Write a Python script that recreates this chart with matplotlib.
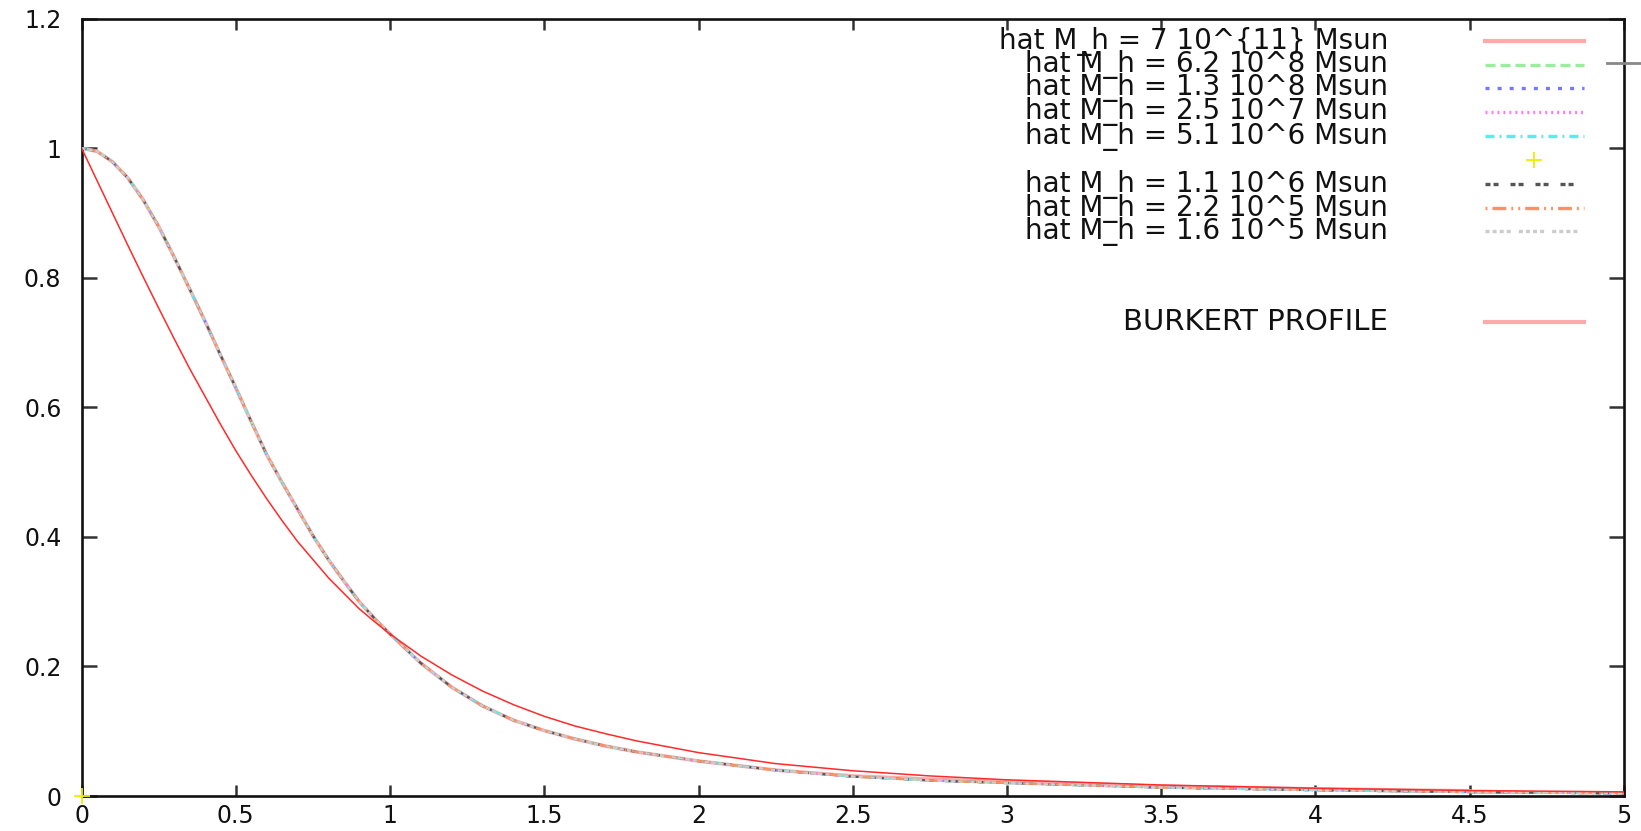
import matplotlib
matplotlib.use("Agg")
import matplotlib.pyplot as plt
from matplotlib.lines import Line2D

# radius
r = [0, 0.05, 0.1, 0.15, 0.2, 0.25, 0.3, 0.35, 0.4, 0.45, 0.5, 0.55, 0.6,
     0.65, 0.7, 0.75, 0.8, 0.85, 0.9, 0.95, 1.0, 1.1, 1.2, 1.3, 1.4, 1.5,
     1.6, 1.7, 1.8, 2.0, 2.25, 2.5, 2.75, 3.0, 3.5, 4.0, 4.5, 5.0]

# the small-mass curves all lie on top of each other at this resolution
cored = [1.0, 0.995, 0.979, 0.954, 0.920, 0.879, 0.832, 0.783, 0.733, 0.681,
         0.630, 0.578, 0.527, 0.484, 0.443, 0.402, 0.365, 0.332, 0.300, 0.274,
         0.250, 0.205, 0.168, 0.139, 0.117, 0.101, 0.088, 0.077, 0.068, 0.054,
         0.040, 0.030, 0.024, 0.020, 0.013, 0.009, 0.006, 0.004]

# 7 10^11 curve, same in the core, a bit above in the tail, stops at 4.5
r_big = r[:-1]
big = [1.0, 0.995, 0.979, 0.954, 0.920, 0.879, 0.832, 0.783, 0.733, 0.681,
       0.630, 0.578, 0.527, 0.484, 0.443, 0.402, 0.365, 0.332, 0.300, 0.274,
       0.250, 0.205, 0.168, 0.139, 0.117, 0.101, 0.088, 0.077, 0.068, 0.054,
       0.040, 0.031, 0.026, 0.022, 0.015, 0.011, 0.008]

burkert = [1.0, 0.950, 0.900, 0.850, 0.801, 0.753, 0.706, 0.660, 0.617, 0.574,
           0.533, 0.495, 0.459, 0.425, 0.393, 0.365, 0.337, 0.313, 0.289, 0.269,
           0.250, 0.216, 0.187, 0.162, 0.141, 0.123, 0.108, 0.096, 0.085, 0.067,
           0.050, 0.039, 0.031, 0.025, 0.017, 0.012, 0.0085, 0.0064]

# yellow points series: only the one at the origin is visible
pts_r = [0.0]
pts_y = [0.0]

labels = ["hat M_h = 7 10^{11} Msun", "hat M_h = 6.2 10^8 Msun",
          "hat M_h = 1.3 10^8 Msun", "hat M_h = 2.5 10^7 Msun",
          "hat M_h = 5.1 10^6 Msun", "",
          "hat M_h = 1.1 10^6 Msun", "hat M_h = 2.2 10^5 Msun",
          "hat M_h = 1.6 10^5 Msun"]
burkert_label = "BURKERT PROFILE"

xticks = [0, 0.5, 1, 1.5, 2, 2.5, 3, 3.5, 4, 4.5, 5]
xticklabels = ["0", "0.5", "1", "1.5", "2", "2.5", "3", "3.5", "4", "4.5", "5"]
yticks = [0, 0.2, 0.4, 0.6, 0.8, 1.0, 1.2]
yticklabels = ["0", "0.2", "0.4", "0.6", "0.8", "1", "1.2"]

plt.rcParams["lines.scale_dashes"] = False
plt.rcParams["font.family"] = ["DejaVu Sans"]

colors = ["#ffaaaa", "#99ee99", "#7777ff", "#ff77ff", "#55eeee", "#eeee00",
          "#555555", "#ff9060", "#cccccc"]
dashes = [None, (7.2, 3.6), (2.9, 5.8), (1.4, 2.9), (6.5, 3.6, 1.4, 3.6), None,
          (3.6, 2.2, 3.6, 8.6), (1.4, 3.6, 10, 3.6, 1.4, 3.6),
          (2.9, 2.2, 2.9, 2.2, 2.9, 2.2, 2.9, 5.8)]

fig = plt.figure(figsize=(16.41, 8.31), dpi=100)
ax = fig.add_axes([0.0497, 0.0421, 0.9399, 0.9356])

ax.plot(r_big, big, color=colors[0], lw=2.6, zorder=2)
for i in range(1, 9):
    if i == 5:
        ax.plot(pts_r, pts_y, "+", color=colors[i], ms=11, mew=1.3,
                clip_on=False, zorder=4)
        continue
    ax.plot(r, cored, color=colors[i], lw=1.6, dashes=dashes[i], zorder=3)
ax.plot(r, burkert, color="#ff2a2a", lw=1.1, zorder=5)

ax.set_xlim(0, 5)
ax.set_ylim(0, 1.2)
ax.set_xticks(xticks)
ax.set_xticklabels(xticklabels)
ax.set_yticks(yticks)
ax.set_yticklabels(yticklabels)
ax.tick_params(axis="both", direction="in", top=True, right=True,
               width=1.8, color="#333333", labelsize=17, labelcolor="#111111")
ax.tick_params(axis="x", length=8, pad=6)
ax.tick_params(axis="y", length=11, pad=14.5)
for s in ax.spines.values():
    s.set_linewidth(1.9)
    s.set_color("#111111")

# gnuplot style key: text right aligned, samples on the right
row_y = [0.9711, 0.9406, 0.9110, 0.8801, 0.8489, 0.8180, 0.7871, 0.7563, 0.7267]
for i, lab in enumerate(labels):
    y = row_y[i]
    if lab:
        ax.text(0.8472, y, lab, transform=ax.transAxes, ha="right", va="center",
                fontsize=20, color="#111111")
    if i == 5:
        ax.plot([0.942], [y], "+", color=colors[i], ms=11, mew=1.3,
                transform=ax.transAxes)
    elif i == 0:
        ax.plot([0.910, 0.974], [y, y], color=colors[i], lw=3.0,
                transform=ax.transAxes)
    else:
        ax.plot([0.910, 0.974], [y, y], color=colors[i], lw=2.4,
                dashes=dashes[i], transform=ax.transAxes)

ax.text(0.8472, 0.6096, burkert_label, transform=ax.transAxes, ha="right",
        va="center", fontsize=21, color="#111111")
ax.plot([0.910, 0.974], [0.6096, 0.6096], color="#ffaaaa", lw=3.0,
        transform=ax.transAxes)

# stray grey mark at the right edge
fig.add_artist(Line2D([0.979, 1.0], [0.9238, 0.9238], color="#888888", lw=2))

fig.savefig("out.png", dpi=100)
